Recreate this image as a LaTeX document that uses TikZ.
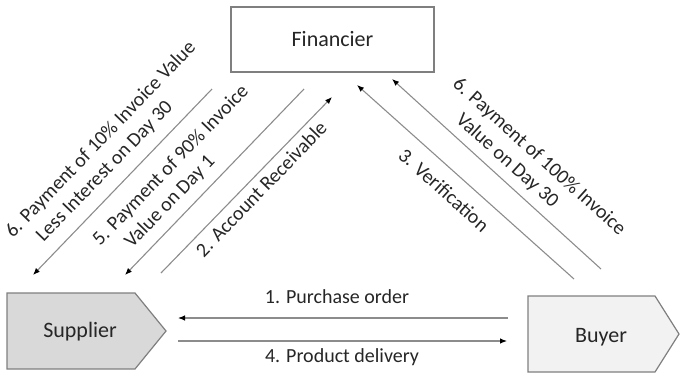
\documentclass[tikz,border=0pt]{standalone}
\usepackage{fontspec}
\setmainfont{Carlito}
\usetikzlibrary{arrows.meta}
\definecolor{edge}{HTML}{7F7F7F}
\definecolor{linegray}{HTML}{8C8C8C}
\definecolor{supfill}{HTML}{D9D9D9}
\definecolor{buyfill}{HTML}{F2F2F2}
\definecolor{ink}{HTML}{262626}
\begin{document}
\begin{tikzpicture}[x=1bp,y=-1bp,
  party/.style={draw=edge, line width=1.2bp, line join=miter},
  partytext/.style={text=ink, font=\fontsize{22bp}{26bp}\selectfont, inner sep=0pt},
  flow/.style={draw=linegray, line width=1.1bp, -{Latex[length=7bp,width=5.5bp,color=black]}},
  flowlabel/.style={text=ink, font=\fontsize{20bp}{26bp}\selectfont, inner sep=0pt},
  uplabel/.style={flowlabel, rotate=46},
  downlabel/.style={flowlabel, rotate=-42}
]
\useasboundingbox (0,0) rectangle (680,375);

% Financier
\node[party, fill=white, minimum width=203bp, minimum height=65bp, text=ink,
      font=\fontsize{22bp}{26bp}\selectfont] (fin) at (332.5,39.5) {Financier};

% Supplier and buyer pentagons
\draw[party, fill=supfill] (7,293) -- (135,293) -- (166,331) -- (135,369) -- (7,369) -- cycle;
\node[partytext] (sup) at (80,332) {Supplier};
\draw[party, fill=buyfill] (528,296) -- (655,296) -- (679,334) -- (655,372) -- (528,372) -- cycle;
\node[partytext] (buy) at (601,337) {Buyer};

% Horizontal flows
\coordinate (poS) at (508,318);  \coordinate (poE) at (178,318);
\coordinate (pdS) at (178,341);  \coordinate (pdE) at (507,341);
\draw[flow] (poS) -- (poE);
\draw[flow] (pdS) -- (pdE);
\node[flowlabel] (l1) at (337,297) {1. Purchase order};
\node[flowlabel] (l4) at (342,357) {4. Product delivery};

% Diagonal flows
\coordinate (aS) at (212,89);  \coordinate (aE) at (33,275);
\coordinate (bS) at (304,89);  \coordinate (bE) at (125,275);
\coordinate (cS) at (161,273); \coordinate (cE) at (332,97);
\coordinate (dS) at (574,279); \coordinate (dE) at (357,85);
\coordinate (eS) at (601,269); \coordinate (eE) at (392,79);
\draw[flow] (aS) -- (aE);
\draw[flow] (bS) -- (bE);
\draw[flow] (cS) -- (cE);
\draw[flow] (dS) -- (dE);
\draw[flow] (eS) -- (eE);

% Diagonal labels, one node per printed line
\node[uplabel] (l6a) at (101,140) {6. Payment of 10\% Invoice Value};
\node[uplabel] (l6b) at (105,172) {Less Interest on Day 30};
\node[uplabel] (l5a) at (171,166) {5. Payment of 90\% Invoice};
\node[uplabel] (l5b) at (170,202) {Value on Day 1};
\node[uplabel] (l2) at (261,189) {2. Account Receivable};
\node[downlabel] (l3) at (444,190) {3. Verification};
\node[downlabel] (l6c) at (539,157) {6. Payment of 100\% Invoice};
\node[downlabel] (l6d) at (507,161) {Value on Day 30};
\end{tikzpicture}
\end{document}
